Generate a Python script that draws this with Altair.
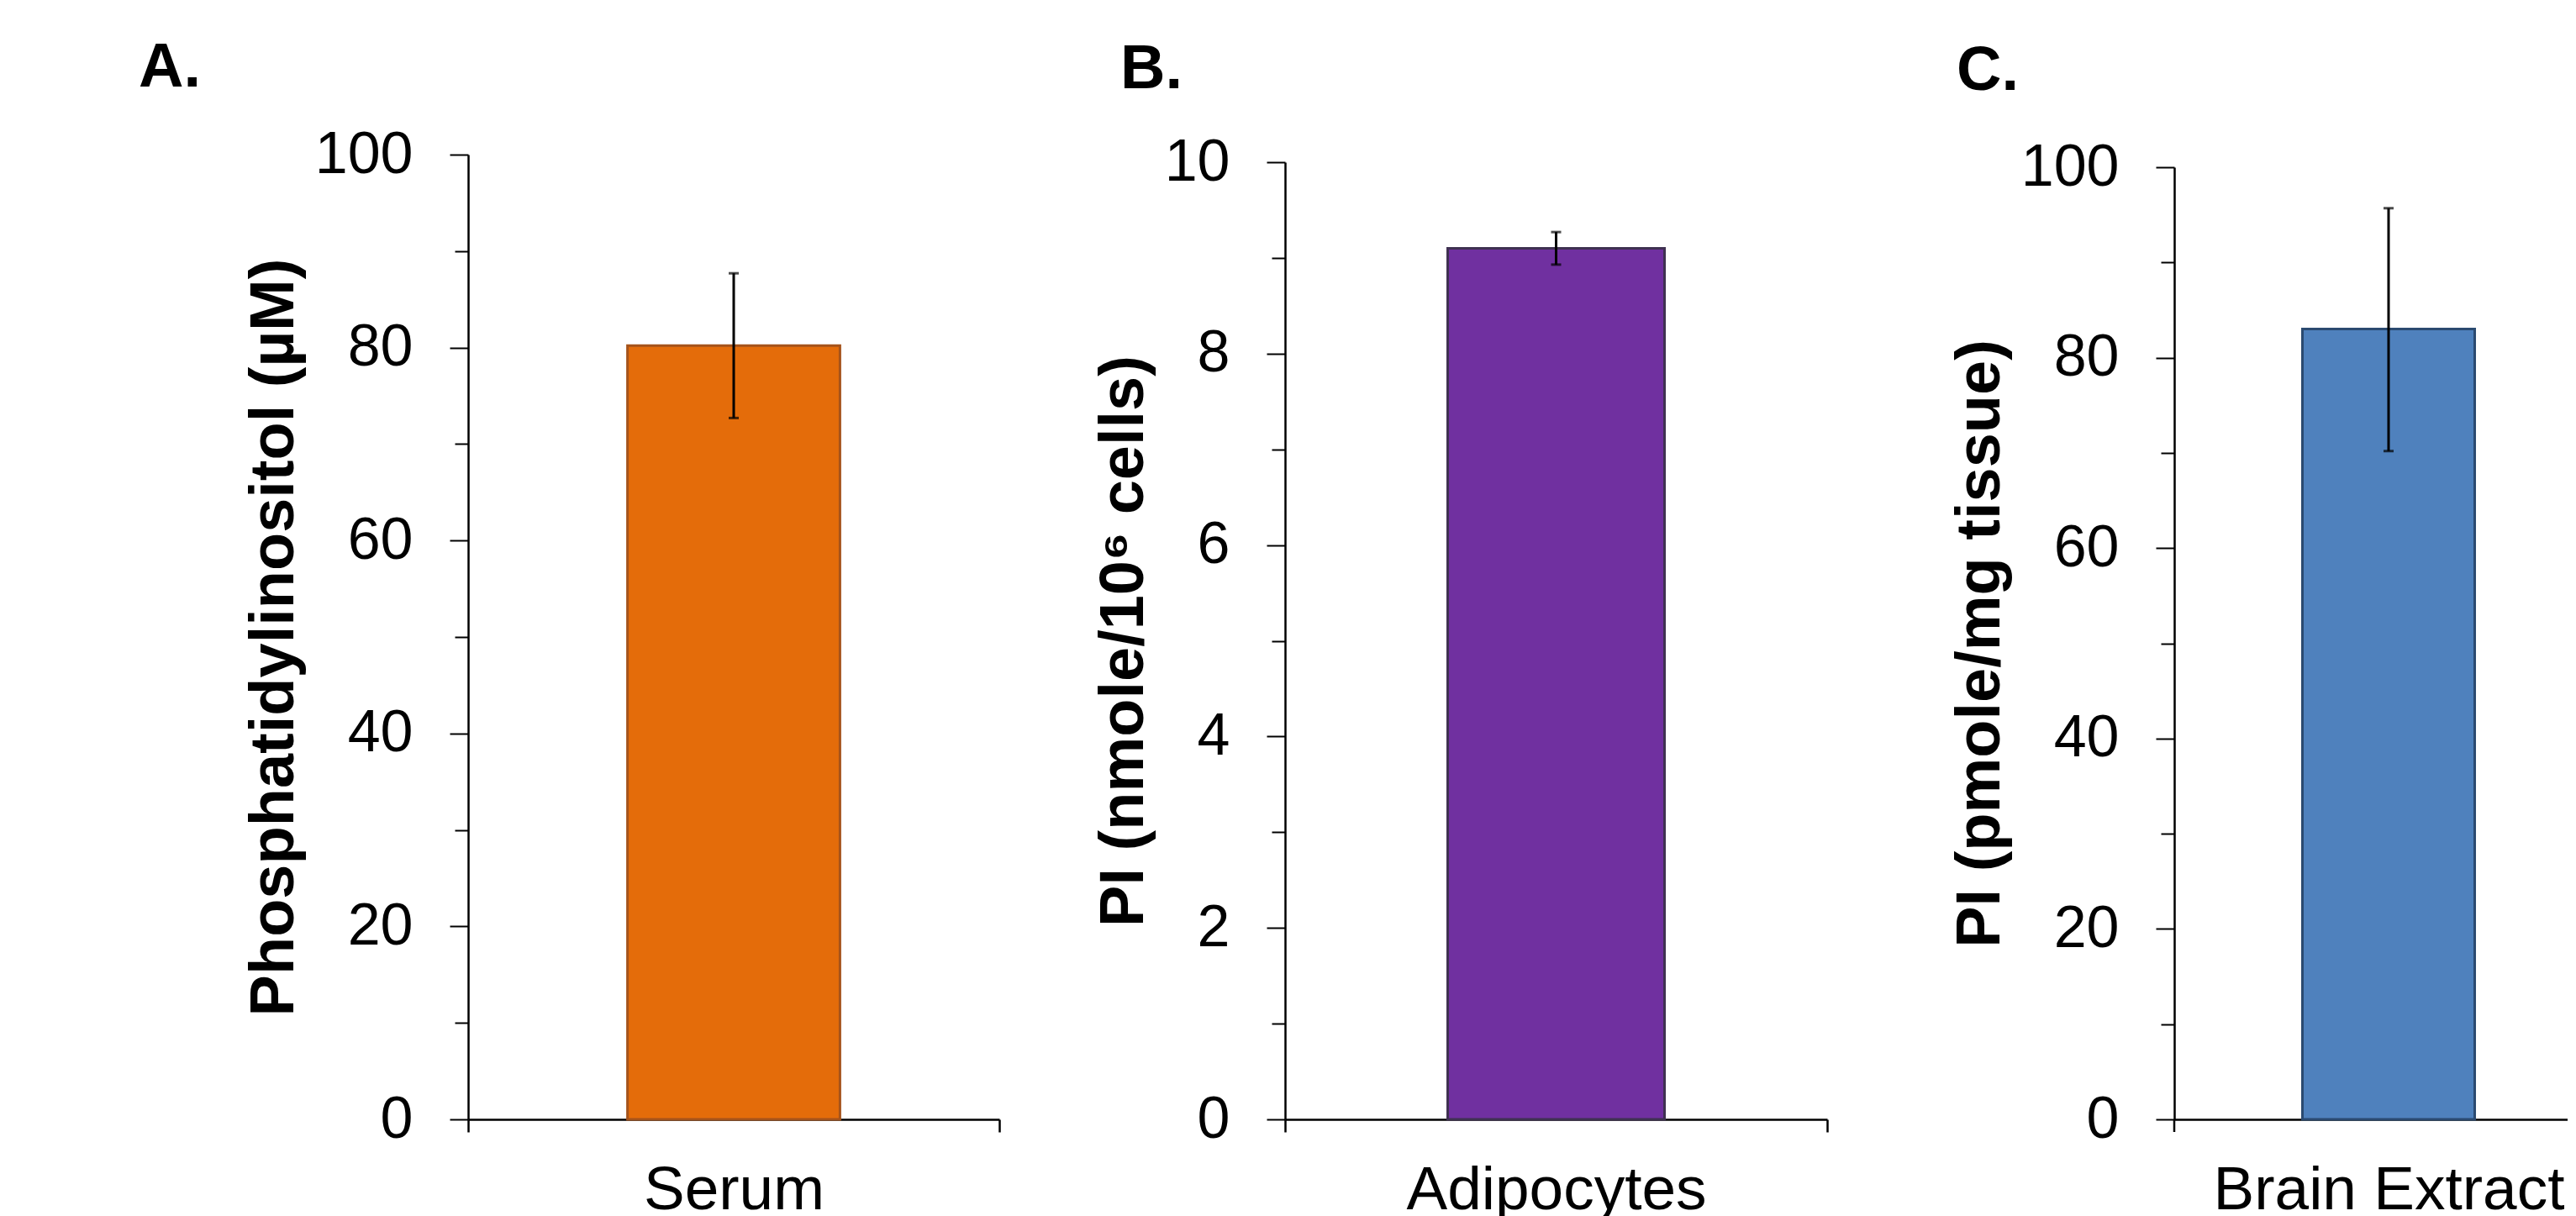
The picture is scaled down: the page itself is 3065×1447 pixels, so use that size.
import altair as alt
import pandas as pd

FONT = "Liberation Sans"

# ---- data ----
panel_letters = ["A.", "B.", "C."]
categories = ["Serum", "Adipocytes", "Brain Extract"]
means = [80.2, 9.1, 83.0]
err_lo = [72.7, 8.93, 70.2]
err_hi = [87.7, 9.27, 95.7]
y_titles = ["Phosphatidylinositol (µM)", "PI (nmole/10⁶ cells)", "PI (pmole/mg tissue)"]
y_max = [100, 10, 100]
y_minor_step = [10, 1, 10]
y_major_step = [20, 2, 20]

# ---- styling / layout ----
fills = ["#E46C0A", "#7030A0", "#4F81BD"]
strokes = ["#A5531B", "#3F3151", "#2B4A70"]
widths = [632, 645, 468]
H = 1148
range_top = [0, 9, 15]
letter_pos = [(-392, -81), (-196, -79), (-259, -77)]
left_anchor = [(-549, -176), (-338, 0), (-411, 0)]
# x band layout per panel: (paddingOuter, align, bar band fraction, show extent ticks)
x_band = [(0, 0.5, 0.4, True), (0, 0.5, 0.4, True), (0.6415, 0.5798, 1.0, False)]


def panel(i):
    df = pd.DataFrame({
        "cat": [categories[i]],
        "mean": [means[i]],
        "lo": [err_lo[i]],
        "hi": [err_hi[i]],
    })
    W = widths[i]
    major = y_major_step[i]
    tick_vals = list(range(0, y_max[i] + 1, y_minor_step[i]))
    po, al, band_frac, show_ticks = x_band[i]

    xenc = alt.X(
        "cat:N",
        title=None,
        scale=alt.Scale(paddingInner=0, paddingOuter=po, align=al),
        axis=alt.Axis(
            labelAngle=0, tickBand="extent", tickSize=15, tickWidth=2.5,
            tickColor="black", tickOpacity=1 if show_ticks else 0,
            domainColor="black", domainWidth=2.5,
            labelFontSize=73, labelFont=FONT, labelColor="black",
            labelPadding=33, labelLimit=0,
        ),
    )
    yscale = alt.Scale(domain=[0, y_max[i]], range=[H, range_top[i]], nice=False, zero=True)
    yaxis = alt.Axis(
        values=tick_vals,
        format="d",
        labelExpr=f"datum.value % {major} === 0 ? datum.label : ''",
        tickSize={"condition": {"test": f"datum.value % {major} === 0", "value": 22}, "value": 16},
        tickWidth=2, tickColor="black", domainColor="black", domainWidth=2.5,
        labelFontSize=70, labelFont=FONT, labelColor="black", labelPadding=44,
        labelOverlap=False, labelLimit=0,
        titleFont=FONT, titleFontSize=74, titleFontWeight="bold", titleColor="black",
        titlePadding=10, grid=False,
    )

    base = alt.Chart(df)
    bars = base.mark_bar(
        width=alt.RelativeBandSize(band_frac), fill=fills[i], stroke=strokes[i], strokeWidth=3
    ).encode(x=xenc, y=alt.Y("mean:Q", scale=yscale, axis=yaxis, title=y_titles[i]))

    stem = base.mark_rule(color="black", strokeWidth=3).encode(
        x=alt.X("cat:N"), y=alt.Y("lo:Q", title=y_titles[i]), y2="hi:Q"
    )
    cap_lo = base.mark_tick(color="black", size=12, thickness=3).encode(
        x=alt.X("cat:N"), y=alt.Y("lo:Q", title=y_titles[i])
    )
    cap_hi = base.mark_tick(color="black", size=12, thickness=3).encode(
        x=alt.X("cat:N"), y=alt.Y("hi:Q", title=y_titles[i])
    )
    lx, ly = letter_pos[i]
    letter = base.mark_text(
        text=panel_letters[i], font=FONT, fontSize=74, fontWeight="bold",
        align="left", baseline="alphabetic", color="black",
    ).encode(x=alt.value(lx), y=alt.value(ly))

    ax, ay = left_anchor[i]
    anchor_l = base.mark_rule(strokeOpacity=0, strokeWidth=1).encode(
        x=alt.value(ax), x2=alt.value(ax), y=alt.value(ay), y2=alt.value(ay + 1)
    )
    layers = [bars, stem, cap_lo, cap_hi, letter, anchor_l]
    if show_ticks:
        anchor_r = base.mark_rule(strokeOpacity=0, strokeWidth=1).encode(
            x=alt.value(W + 2), x2=alt.value(W + 2), y=alt.value(0), y2=alt.value(1)
        )
        layers.append(anchor_r)
    else:
        left_tick = base.mark_rule(color="black", strokeWidth=2.5).encode(
            x=alt.value(0), x2=alt.value(0), y=alt.value(H), y2=alt.value(H + 15)
        )
        layers.append(left_tick)
    return alt.layer(*layers).properties(width=W, height=H)


chart = alt.hconcat(panel(0), panel(1), panel(2), spacing=0).properties(
    padding=0
).configure_view(stroke=None).configure_axis(grid=False)

chart.save("out.html", embed_options={"renderer": "svg", "actions": False})
